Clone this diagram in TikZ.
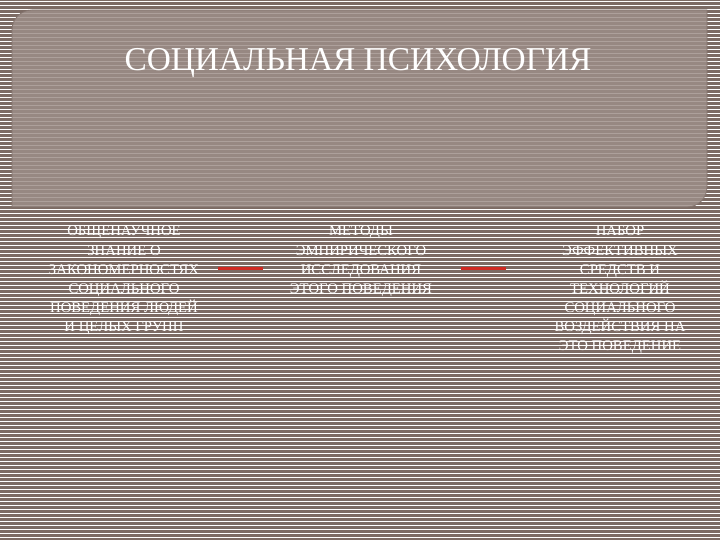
\documentclass[tikz,border=0pt]{standalone}
\usepackage{fontspec}
\setmainfont{Liberation Serif}
\definecolor{bgbrown}{HTML}{7C6B64}
\definecolor{boxdark}{HTML}{978882}
\definecolor{boxlight}{HTML}{ADA09B}
\definecolor{boxedge}{HTML}{85756F}
\definecolor{redline}{HTML}{D02A22}
\tikzset{
  bodytext/.style={text=white, align=center, inner sep=0pt, anchor=north,
    font=\fontsize{14.8}{19.2}\selectfont},
  conn/.style={draw=redline, line width=3bp},
}
\begin{document}
\begin{tikzpicture}[x=1bp,y=-1bp]
\useasboundingbox (0,0) rectangle (720,540);
% striped background
\fill[bgbrown] (0,0) rectangle (720,540);
\foreach \i in {0,...,134} {
  \fill[white] (0,{\i*4+1}) rectangle (720,{\i*4+2.2});
}
% title box: rounded top-left and bottom-right corners
\def\boxpath{(12,30) arc[start angle=180, end angle=270, radius=20] -- (707,10) -- (707,187) arc[start angle=0, end angle=90, radius=20] -- (12,207) -- cycle}
\begin{scope}
  \clip \boxpath;
  \fill[boxdark] (0,0) rectangle (720,220);
  \foreach \i in {0,...,55} {
    \fill[boxlight] (0,{\i*4+1}) rectangle (720,{\i*4+2.5});
  }
\end{scope}
\draw[boxedge, line width=0.8bp] \boxpath;
\node[text=white, font=\fontsize{33.5}{38}\selectfont] (title) at (358,63) {СОЦИАЛЬНАЯ ПСИХОЛОГИЯ};
% three text blocks
\node[bodytext] (left) at (124,226) {ОБЩЕНАУЧНОЕ\\ЗНАНИЕ О\\ЗАКОНОМЕРНОСТЯХ\\СОЦИАЛЬНОГО\\ПОВЕДЕНИЯ ЛЮДЕЙ\\И ЦЕЛЫХ ГРУПП};
\node[bodytext] (mid) at (361,226) {МЕТОДЫ\\ЭМПИРИЧЕСКОГО\\ИССЛЕДОВАНИЯ\\ЭТОГО ПОВЕДЕНИЯ};
\node[bodytext] (right) at (620,226) {НАБОР\\ЭФФЕКТИВНЫХ\\СРЕДСТВ И\\ТЕХНОЛОГИЙ\\СОЦИАЛЬНОГО\\ВОЗДЕЙСТВИЯ НА\\ЭТО ПОВЕДЕНИЕ};
% red connectors
\coordinate (c1a) at (218,268);
\coordinate (c1b) at (263,268);
\coordinate (c2a) at (461,268);
\coordinate (c2b) at (506,268);
\draw[conn] (c1a) -- (c1b);
\draw[conn] (c2a) -- (c2b);
\end{tikzpicture}
\end{document}
